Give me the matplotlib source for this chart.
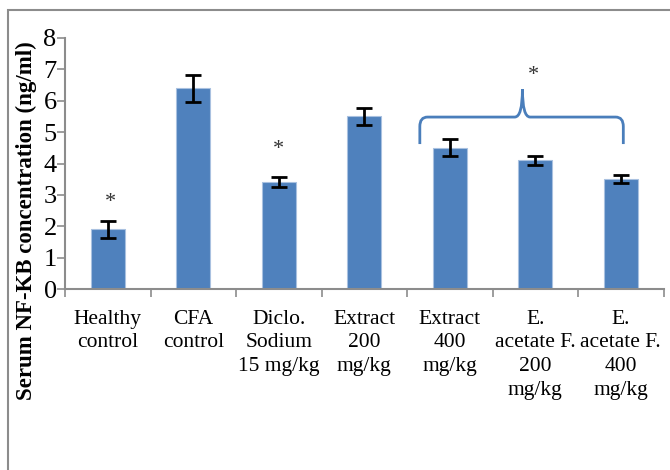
import matplotlib
matplotlib.use("Agg")
import matplotlib.pyplot as plt
from matplotlib.path import Path
from matplotlib.patches import PathPatch, Rectangle
import numpy as np

categories = ["Healthy\ncontrol", "CFA\ncontrol", "Diclo.\nSodium\n15 mg/kg",
              "Extract\n200\nmg/kg", "Extract\n400\nmg/kg",
              "E.\nacetate F.\n200\nmg/kg", "E.\nacetate F.\n400\nmg/kg"]
values = [1.9, 6.4, 3.4, 5.5, 4.5, 4.1, 3.5]
errors = [0.27, 0.43, 0.16, 0.28, 0.27, 0.15, 0.12]
ytick_vals = [0, 1, 2, 3, 4, 5, 6, 7, 8]

plt.rcParams["font.family"] = ["Liberation Serif", "DejaVu Serif"]

fig = plt.figure(figsize=(6.7, 4.7), dpi=100)
ax = fig.add_axes([65/670, 1-289/470, (663.5-65)/670, (289-38)/470])

# outer chart frame
fig.patches.append(Rectangle((8/670, -0.1), 1.2, 1 - 10/470 + 0.1,
                             transform=fig.transFigure, fill=False,
                             edgecolor="#8c8c8c", linewidth=1.5))

x = np.arange(len(categories))
ax.bar(x, values, width=0.4, color="#4F81BD", edgecolor="#a9c1e0", linewidth=0.8, zorder=2)
ax.errorbar(x, values, yerr=errors, fmt="none", ecolor="black", elinewidth=2,
            capsize=6, capthick=2, zorder=3)

ax.set_xlim(-0.5, len(categories) - 0.5)
ax.set_ylim(0, 8)
ax.set_yticks(ytick_vals)
ax.set_yticklabels([str(v) for v in ytick_vals], fontsize=19)
ax.set_xticks(x)
ax.set_xticklabels(categories, fontsize=15.5, linespacing=1.33)
ax.tick_params(axis="x", length=0, pad=15)
ax.tick_params(axis="y", length=6, width=1.2, color="#8c8c8c", pad=0)
# category boundary ticks
ax.set_xticks(np.arange(len(categories) + 1) - 0.5, minor=True)
ax.tick_params(axis="x", which="minor", length=6, width=1.2, color="#8c8c8c", direction="out")

for s in ["top", "right"]:
    ax.spines[s].set_visible(False)
for s in ["left", "bottom"]:
    ax.spines[s].set_color("#8c8c8c")
    ax.spines[s].set_linewidth(1.5)

fig.text(26/670, 1 - 221/470, "Serum NF-KB concentration (ng/ml)", rotation=90,
         ha="center", va="center", fontsize=16.5, fontweight="bold")

# significance markers
ax.text(0.03, 2.75, "*", ha="center", va="center", fontsize=16, color="#333333")
ax.text(2.0, 4.46, "*", ha="center", va="center", fontsize=16, color="#333333")
ax.text(4.98, 6.82, "*", ha="center", va="center", fontsize=16, color="#333333")

# curly brace over the last three groups
xl, xr, xm = 3.65, 6.03, 4.85
yb, yh, yp = 4.62, 5.48, 6.37
r = 0.09
verts = [
    (xl, yb), (xl, yh - 0.3), (xl, yh), (xl + r, yh),
    (xm - r, yh), (xm, yh), (xm, yp),
    (xm, yh), (xm + r, yh),
    (xr - r, yh), (xr, yh), (xr, yh - 0.3),
    (xr, yb),
]
codes = [Path.MOVETO, Path.LINETO, Path.CURVE3, Path.CURVE3,
         Path.LINETO, Path.CURVE3, Path.CURVE3,
         Path.CURVE3, Path.CURVE3,
         Path.LINETO, Path.CURVE3, Path.CURVE3,
         Path.LINETO]
ax.add_patch(PathPatch(Path(verts, codes), fill=False, edgecolor="#4a7ebb",
                       linewidth=2, clip_on=False, zorder=4))

fig.savefig("out.png", dpi=100)
